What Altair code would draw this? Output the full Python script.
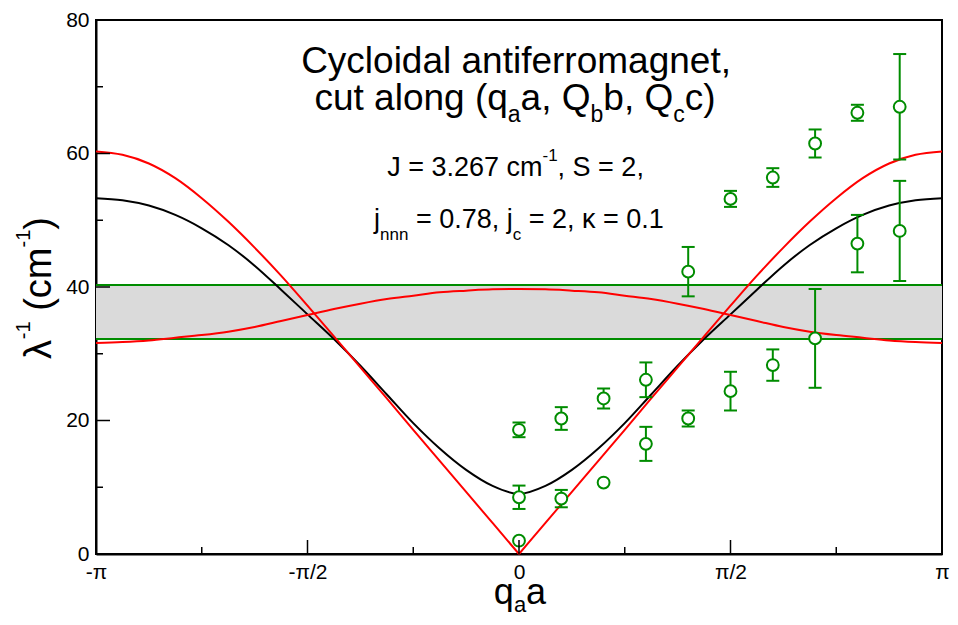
import math
import altair as alt
import pandas as pd

PI = math.pi

# ---------------- data ----------------
# theory curves, sampled at q_a a = k*pi/16, k = -16..16
curve_k = list(range(-16, 17))
black_curve = [53.3, 53.0, 52.2, 50.8, 48.8, 46.3, 43.2, 39.6, 35.9, 32.2, 28.2, 23.9, 19.6, 15.8, 12.6, 10.2,
               9.0,
               10.2, 12.6, 15.8, 19.6, 23.9, 28.2, 32.2, 35.9, 39.6, 43.2, 46.3, 48.8, 50.8, 52.2, 53.0, 53.3]
red_upper_curve = [60.3, 59.8, 58.5, 56.3, 53.3, 49.8, 45.9, 41.7, 37.2, 32.6, 27.95, 23.3, 18.6, 13.95, 9.3, 4.65,
                   0.0,
                   4.65, 9.3, 13.95, 18.6, 23.3, 27.95, 32.6, 37.2, 41.7, 45.9, 49.8, 53.3, 56.3, 58.5, 59.8, 60.3]
red_lower_curve = [31.6, 31.75, 32.0, 32.4, 32.8, 33.3, 34.0, 34.9, 35.8, 36.7, 37.5, 38.2, 38.7, 39.2, 39.45, 39.65,
                   39.7,
                   39.65, 39.45, 39.2, 38.7, 38.2, 37.5, 36.7, 35.8, 34.9, 34.0, 33.3, 32.8, 32.4, 32.0, 31.75, 31.6]

# shaded band (cm^-1)
band_low = [32.2]
band_high = [40.3]

# measured points, q_a a in units of pi
meas_q_over_pi = [0.0, 0.1, 0.2, 0.3, 0.4, 0.5, 0.6, 0.7, 0.8, 0.9]
upper_vals = [18.6, 20.3, 23.3, 26.1, 42.3, 53.2, 56.4, 61.5, 66.1, 67.0]
upper_errs = [1.1, 1.7, 1.5, 2.6, 3.7, 1.2, 1.4, 2.1, 1.2, 7.9]
lower_vals = [8.5, 8.3, 10.7, 16.5, 20.3, 24.4, 28.3, 32.3, 46.5, 48.4]
lower_errs = [1.75, 1.3, 0.0, 2.55, 1.2, 2.9, 2.35, 7.4, 4.3, 7.5]
extra_q_over_pi = [0.0]
extra_vals = [2.0]
extra_errs = [0.0]

# axes
x_tick_over_pi = [-1.0, -0.5, 0.0, 0.5, 1.0]
x_tick_labels = ["-π", "-π/2", "0", "π/2", "π"]
x_minor_over_pi = [-0.75, -0.25, 0.25, 0.75]
y_ticks = [0, 20, 40, 60, 80]
y_minor = [10, 30, 50, 70]

# texts (runs: normal / sub / sup)
title_line1 = [("Cycloidal antiferromagnet,", "n")]
title_line2 = [("cut along (q", "n"), ("a", "sub"), ("a, Q", "n"), ("b", "sub"),
               ("b, Q", "n"), ("c", "sub"), ("c)", "n")]
param_line1 = [("J = 3.267 cm", "n"), ("-1", "sup"), (", S = 2,", "n")]
param_line2 = [("j", "n"), ("nnn", "sub"), (" = 0.78, j", "n"), ("c", "sub"), (" = 2, κ = 0.1", "n")]
x_title_runs = [("q", "n"), ("a", "sub"), ("a", "n")]
y_title_runs = [("λ", "n"), ("-1", "sup"), (" (cm", "n"), ("-1", "sup"), (")", "n")]

# ---------------- styling ----------------
GREEN = "#008c00"
RED = "#ff0000"
BAND = "#dadada"
FONT = "Liberation Sans, Arial, Helvetica, sans-serif"
W, H = 846, 534
TOP = 12          # plot top at page y = 8 + TOP
LEFT = 88         # plot left at page x = 8 + LEFT
REF_SX = W / 850.0
REF_SY = H / 538.0

# Arial / Liberation Sans advance widths (1/1000 em)
ADV = {' ': 278, ',': 278, '.': 278, '(': 333, ')': 333, '-': 333, '=': 584, '/': 278,
       'C': 722, 'J': 500, 'Q': 778, 'S': 667,
       'a': 556, 'b': 556, 'c': 500, 'd': 556, 'e': 556, 'f': 278, 'g': 556, 'i': 222,
       'j': 222, 'l': 222, 'm': 833, 'n': 556, 'o': 556, 'q': 556, 'r': 333, 't': 278,
       'u': 556, 'y': 500, 'κ': 500, 'λ': 520}
for d in "0123456789":
    ADV[d] = 556


def tw(s, size):
    return sum(ADV.get(c, 556) for c in s) * size / 1000.0


def rx(page_x):
    return (page_x - 100) * REF_SX


def ry(page_y):
    return (page_y - 15) * REF_SY


def text_layer(t, x, y, size, angle=0):
    return alt.Chart(pd.DataFrame({"t": [t]})).mark_text(
        align="left", baseline="alphabetic", font=FONT, fontSize=size,
        color="black", angle=angle
    ).encode(text="t:N", x=alt.value(x), y=alt.value(y))


def rich(runs, F, f, center_x, base_y, sub_y=None, sup_y=None):
    total = sum(tw(t, F if k == "n" else f) for t, k in runs)
    x = center_x - total / 2
    out = []
    for t, k in runs:
        size = F if k == "n" else f
        y = base_y if k == "n" else (sub_y if k == "sub" else sup_y)
        lead = len(t) - len(t.lstrip(" "))
        x += tw(" " * lead, size)
        body = t.strip(" ")
        out.append(text_layer(body, x, y, size))
        x += tw(body, size) + tw(" " * (len(t.lstrip(" ")) - len(body)), size)
    return out


def rich_vertical(runs, F, f, center_y, base_x, sup_x):
    total = sum(tw(t, F if k == "n" else f) for t, k in runs)
    y = center_y + total / 2
    out = []
    for t, k in runs:
        size = F if k == "n" else f
        x = base_x if k == "n" else sup_x
        lead = len(t) - len(t.lstrip(" "))
        y -= tw(" " * lead, size)
        body = t.strip(" ")
        out.append(text_layer(body, x, y, size, angle=270))
        y -= tw(body, size)
    return out


# ---------------- frames ----------------
xs = alt.Scale(domain=[-PI, PI], nice=False, zero=False)
ys = alt.Scale(domain=[0, 80], nice=False, zero=False)

mids = [(x_tick_over_pi[i] + x_tick_over_pi[i + 1]) / 2 * PI for i in range(len(x_tick_over_pi) - 1)]
label_expr = "".join(f"datum.value < {m:.5f} ? '{x_tick_labels[i]}' : " for i, m in enumerate(mids)) + \
    f"'{x_tick_labels[-1]}'"

x_axis = alt.Axis(values=[v * PI for v in x_tick_over_pi], labelExpr=label_expr, title=None,
                  tickSize=0, grid=False, labelFlush=False, labelOverlap=False, labelPadding=7,
                  labelFont=FONT, labelFontSize=21, labelColor="black",
                  domainColor="black", domainWidth=2)
y_axis = alt.Axis(values=y_ticks, format="d", title=None, tickSize=0, grid=False,
                  labelFlush=False, labelOverlap=False, labelPadding=7,
                  labelFont=FONT, labelFontSize=21, labelColor="black",
                  domainColor="black", domainWidth=2)


def X(field):
    return alt.X(f"{field}:Q", scale=xs, axis=x_axis)


def Y(field):
    return alt.Y(f"{field}:Q", scale=ys, axis=y_axis)


rows = []
for i, k in enumerate(curve_k):
    q = k * PI / 16
    rows.append({"q": q, "v": black_curve[i], "s": "black"})
    if k <= 0:
        rows.append({"q": q, "v": red_upper_curve[i], "s": "red_left"})
    if k >= 0:
        rows.append({"q": q, "v": red_upper_curve[i], "s": "red_right"})
    rows.append({"q": q, "v": red_lower_curve[i], "s": "red_low"})
curves = pd.DataFrame(rows)

band_df = pd.DataFrame({"x0": [-PI], "x1": [PI], "lo": band_low, "hi": band_high})
band_lines = pd.DataFrame({"x0": [-PI, -PI], "x1": [PI, PI], "v": band_low + band_high})

pts = []
for qs, vals, errs in ((meas_q_over_pi, upper_vals, upper_errs),
                       (meas_q_over_pi, lower_vals, lower_errs),
                       (extra_q_over_pi, extra_vals, extra_errs)):
    for q, v, e in zip(qs, vals, errs):
        pts.append({"q": q * PI, "v": v, "lo": v - e, "hi": v + e, "e": e})
pts = pd.DataFrame(pts)
err = pts[pts["e"] > 0]
caps = pd.DataFrame({"q": list(err["q"]) * 2, "v": list(err["lo"]) + list(err["hi"])})

layers = [
    alt.Chart(band_df).mark_rect(color=BAND).encode(x=X("x0"), x2="x1", y=Y("lo"), y2="hi"),
    alt.Chart(band_lines).mark_rule(color=GREEN, strokeWidth=2).encode(x=X("x0"), x2="x1", y=Y("v")),
    alt.Chart(curves[curves["s"] == "black"]).mark_line(color="black", strokeWidth=2, interpolate="monotone")
    .encode(x=X("q"), y=Y("v")),
    alt.Chart(curves[curves["s"] != "black"]).mark_line(color=RED, strokeWidth=2, interpolate="monotone")
    .encode(x=X("q"), y=Y("v"), detail="s:N"),
    alt.Chart(err).mark_rule(color=GREEN, strokeWidth=2).encode(x=X("q"), y=Y("lo"), y2="hi"),
    alt.Chart(caps).mark_tick(color=GREEN, orient="horizontal", size=13, thickness=2, opacity=1)
    .encode(x=X("q"), y=Y("v")),
    alt.Chart(pts).mark_point(shape="circle", filled=True, fill="white", stroke=GREEN, strokeWidth=2,
                              size=140, opacity=1, fillOpacity=1)
    .encode(x=X("q"), y=Y("v")),
    # inward ticks
    alt.Chart(pd.DataFrame({"q": [v * PI for v in x_tick_over_pi]})).mark_rule(color="black", strokeWidth=1.5)
    .encode(x=X("q"), y=alt.value(H), y2=alt.value(H - 14)),
    alt.Chart(pd.DataFrame({"q": [v * PI for v in x_minor_over_pi]})).mark_rule(color="black", strokeWidth=1.5)
    .encode(x=X("q"), y=alt.value(H), y2=alt.value(H - 7)),
    alt.Chart(pd.DataFrame({"v": y_ticks})).mark_rule(color="black", strokeWidth=1.5)
    .encode(y=Y("v"), x=alt.value(0), x2=alt.value(14)),
    alt.Chart(pd.DataFrame({"v": y_minor})).mark_rule(color="black", strokeWidth=1.5)
    .encode(y=Y("v"), x=alt.value(0), x2=alt.value(7)),
]

layers += rich(title_line1, 37, 23, rx(522), ry(68))
layers += rich(title_line2, 37, 23, rx(521), ry(106), sub_y=ry(118))
layers += rich(param_line1, 27, 17, rx(521.5), ry(172.5), sup_y=ry(157))
layers += rich(param_line2, 27, 17, rx(525), ry(225), sub_y=ry(236.5))
layers += rich(x_title_runs, 36, 22, rx(526), 604 - 8 - TOP, sub_y=612 - 8 - TOP)
layers += rich_vertical(y_title_runs, 38, 20, ry(285), 51 - 8 - LEFT, 30 - 8 - LEFT)

chart = alt.layer(*layers).properties(
    width=W, height=H,
    autosize=alt.AutoSizeParams(type="none"),
    padding={"left": LEFT, "top": TOP, "right": 8, "bottom": 609 - TOP - H},
).configure_view(stroke="black", strokeWidth=2)

chart.save("out.html", embed_options={"renderer": "svg", "actions": False})
